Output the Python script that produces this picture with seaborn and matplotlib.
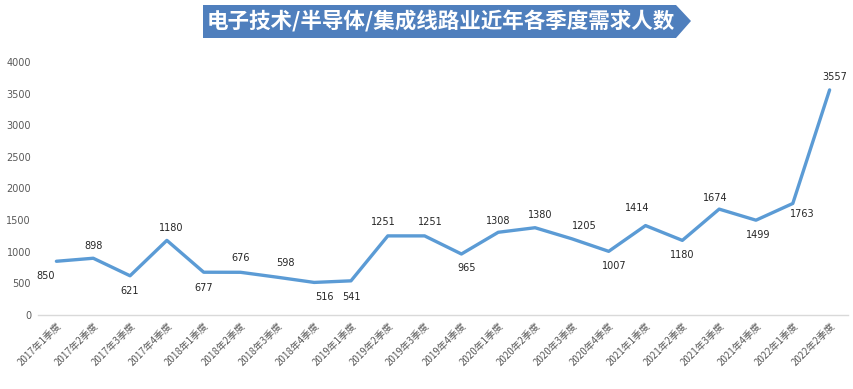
import matplotlib
matplotlib.use("Agg")
import matplotlib.pyplot as plt
from matplotlib.patches import Polygon
import seaborn as sns
import pandas as pd

# quarterly demand data
quarters = ["2017年1季度", "2017年2季度", "2017年3季度", "2017年4季度",
            "2018年1季度", "2018年2季度", "2018年3季度", "2018年4季度",
            "2019年1季度", "2019年2季度", "2019年3季度", "2019年4季度",
            "2020年1季度", "2020年2季度", "2020年3季度", "2020年4季度",
            "2021年1季度", "2021年2季度", "2021年3季度", "2021年4季度",
            "2022年1季度", "2022年2季度"]
demand = [850, 898, 621, 1180, 677, 676, 598, 516, 541, 1251, 1251, 965,
          1308, 1380, 1205, 1007, 1414, 1180, 1674, 1499, 1763, 3557]
y_ticks = [0, 500, 1000, 1500, 2000, 2500, 3000, 3500, 4000]
title = "电子技术/半导体/集成线路业近年各季度需求人数"

# label offsets in pixels (dx, dy), placement
label_offsets = [(-11, -15), (0, 12), (0, -15), (4, 12), (0, -16), (0, 14),
                 (8, 14), (10, -15), (0, -16), (-4, 14), (6, 14), (5, -14),
                 (0, 11), (5, 13), (12, 13), (6, -15), (-8, 18), (0, -15),
                 (-4, 11), (2, -15), (9, -11), (5, 13)]

df = pd.DataFrame({"quarter": quarters, "demand": demand})
df["pos"] = range(len(df))

sns.set_theme(style="white")
plt.rcParams["font.family"] = ["Noto Sans CJK SC", "DejaVu Sans"]

fig = plt.figure(figsize=(8.54, 3.89), dpi=100)
ax = fig.add_axes([0.0445, 0.19, 0.9485, 0.651])

sns.lineplot(data=df, x="pos", y="demand", ax=ax, color="#5b9bd5", linewidth=2.4)

for i, v in enumerate(demand):
    dx, dy = label_offsets[i]
    ax.annotate(str(v), (i, v), xytext=(dx * 0.72, dy * 0.72),
                textcoords="offset points", ha="center", va="center",
                fontsize=7, color="#262626", family="DejaVu Sans")

ax.set_xlim(-0.5, len(quarters) - 0.5)
ax.set_ylim(0, 4000)
ax.set_yticks(y_ticks)
ax.set_yticklabels([str(t) for t in y_ticks], fontsize=7, color="#595959",
                   family="DejaVu Sans")
ax.set_xticks(range(len(quarters)))
ax.set_xticklabels(quarters, rotation=45, ha="right", rotation_mode="anchor",
                   fontsize=7, color="#595959")
ax.tick_params(axis="x", length=0, pad=4)
ax.tick_params(axis="y", length=0, pad=5)
ax.set_xlabel("")
ax.set_ylabel("")
for s in ["top", "right", "left"]:
    ax.spines[s].set_visible(False)
ax.spines["bottom"].set_color("#d9d9d9")
ax.spines["bottom"].set_linewidth(1)

# title banner
W, H = 854, 389
pts = [(203, 5), (676, 5), (691, 21), (676, 38), (203, 38)]
banner = Polygon([(x / W, 1 - y / H) for x, y in pts], closed=True,
                 transform=fig.transFigure, facecolor="#4f7fbd",
                 edgecolor="none")
fig.patches.append(banner)
fig.text(441 / W, 1 - 21 / H, title, ha="center", va="center", fontsize=15.5,
         color="white", fontweight="bold")

fig.savefig("out.png", dpi=100)
